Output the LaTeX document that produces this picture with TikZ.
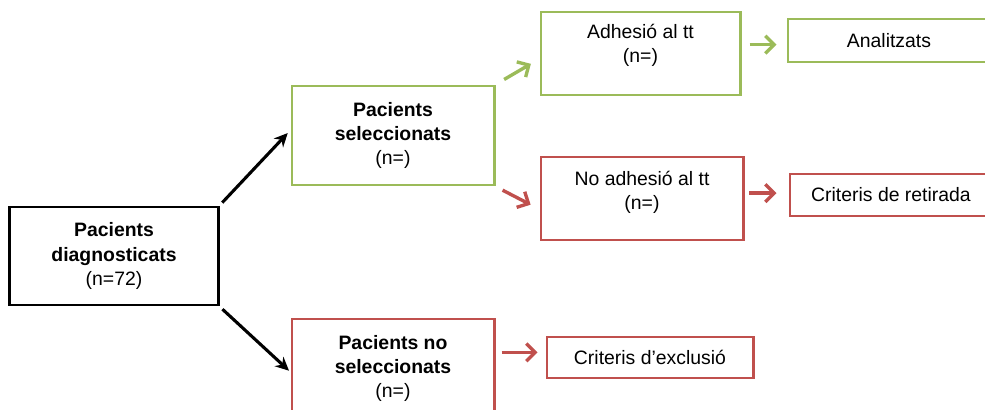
\documentclass[tikz,border=0pt]{standalone}
\usepackage{fontspec}
\setmainfont{Liberation Sans}
\usepackage{tikz}
\usetikzlibrary{arrows.meta}
\definecolor{verd}{HTML}{9BBB59}
\definecolor{vermell}{HTML}{C0504D}

\begin{document}
\begin{tikzpicture}[x=0.025cm,y=-0.025cm,
		font=\fontsize{13.8}{17.1}\selectfont,
		caixa/.style={rectangle,line width=2.1pt,align=center,inner sep=0pt}]
		\useasboundingbox (0,0) rectangle (985,409);
		\clip (0,0) rectangle (985,409);

		\begin{scope}[every node/.style={caixa,draw=black}]
			\node (diag) [minimum width=5.2cm,minimum height=2.45cm] at (114,256) {\textbf{Pacients}\\\textbf{diagnosticats}\\(n=72)};
		\end{scope}

		\begin{scope}[every node/.style={caixa,draw=verd}]
			\node (sel) [minimum width=5.05cm,minimum height=2.475cm] at (393,135.5) {\textbf{Pacients}\\\textbf{seleccionats}\\(n=)};
			\node (adh) [minimum width=4.975cm,minimum height=2.075cm,text depth=0.525cm] at (640.5,53.5) {Adhesió al tt\\(n=)};
			\node (anal) [minimum width=5.05cm,minimum height=1.075cm] at (889,40.5) {Analitzats};
		\end{scope}

		\begin{scope}[every node/.style={caixa,draw=vermell}]
			\node (noadh) [minimum width=5.05cm,minimum height=2.075cm,text depth=0.425cm] at (642,198.5) {No adhesió al tt\\(n=)};
			\node (ret) [minimum width=5.05cm,minimum height=1.05cm] at (891,195) {Criteris de retirada};
			\node (nosel) [minimum width=5.05cm,minimum height=2.475cm] at (393,368.5) {\textbf{Pacients no}\\\textbf{seleccionats}\\(n=)};
			\node (excl) [minimum width=5.15cm,minimum height=1.025cm] at (650,357.5) {Criteris d'exclusió};
		\end{scope}

		\begin{scope}[>={Stealth[length=0.34cm,width=0.32cm]},
					  every edge/.style={draw=black,line width=2.2pt}]
			\path [->] (diag.north east) edge [shorten <=0.1cm,shorten >=0.1cm] (sel.177);
			\path [->] (diag.south east) edge [shorten <=0.1cm,shorten >=0.05cm] (nosel.182);
		\end{scope}

		\begin{scope}[>={Straight Barb[length=0.22cm,width=0.44cm]},
					  every edge/.style={line width=2.4pt}]
			\path [->] (sel.north east) edge [draw=verd,shorten <=0.25cm,shorten >=0.25cm] (adh.183);
			\path [->] (adh.5) edge [draw=verd,shorten <=0.2cm,shorten >=0.25cm] (adh.5 -| anal.west);
			\path [->] (sel.south east) edge [draw=vermell,shorten <=0.2cm,shorten >=0.25cm] (noadh.186);
			\path [->] (noadh.3) edge [draw=vermell,shorten <=0.12cm,shorten >=0.3cm] (noadh.3 -| ret.west);
			\path [->] (nosel.9) edge [draw=vermell,shorten <=0.15cm,shorten >=0.2cm] (nosel.9 -| excl.west);
		\end{scope}
		\end{tikzpicture}
\end{document}
